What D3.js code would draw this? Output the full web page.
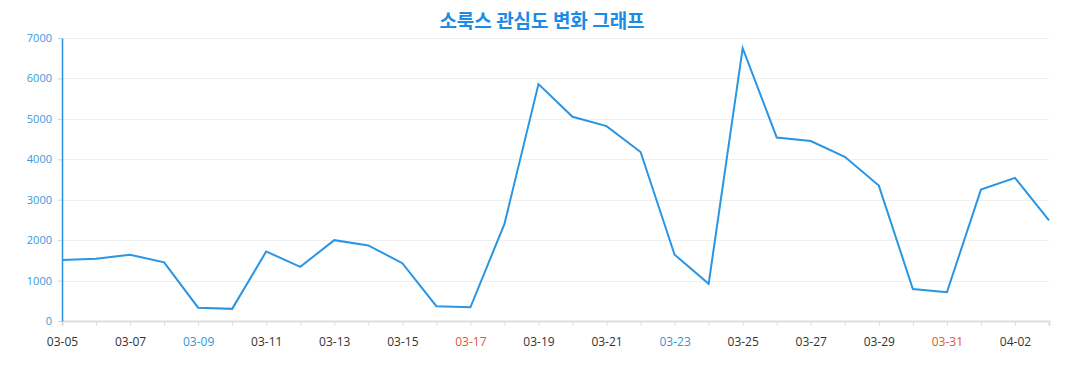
<!DOCTYPE html>
<html>
<head>
<meta charset="utf-8">
<script src="https://cdn.jsdelivr.net/npm/d3@7"></script>
<style>
 body { margin: 0; background: #fff; }
 svg { display: block; }
</style>
</head>
<body>
<div id="chart"></div>
<script type="text/javascript">
 var dates = ["03-05","03-06","03-07","03-08","03-09","03-10","03-11","03-12","03-13","03-14",
              "03-15","03-16","03-17","03-18","03-19","03-20","03-21","03-22","03-23","03-24",
              "03-25","03-26","03-27","03-28","03-29","03-30","03-31","04-01","04-02","04-03"];
 var values = [1510,1540,1640,1450,330,300,1720,1340,2000,1870,
               1430,365,340,2400,5860,5050,4820,4180,1640,920,
               6750,4540,4450,4060,3350,790,710,3250,3540,2490];
 var yTicks = [0,1000,2000,3000,4000,5000,6000,7000];
 var saturdays = ["03-09","03-16","03-23","03-30"];
 var sundays = ["03-10","03-17","03-24","03-31"];

 var props = {
   width: 1077,
   height: 390,
   marginTop: 38,
   marginLeft: 62,
   marginRight: 28,
   marginBottom: 69
 }
 var axisFont = "'Open Sans', 'Noto Sans', sans-serif";

 var svg = d3.select("#chart").append("svg").attr("width", props.width).attr("height", props.height);

 var x = d3.scalePoint().domain(dates).range([props.marginLeft, props.width - props.marginRight]);
 var y = d3.scaleLinear().domain([0, 7000]).range([props.height - props.marginBottom, props.marginTop]);

 // title
 svg.append("text")
   .attr("x", 542)
   .attr("y", 28)
   .attr("text-anchor", "middle")
   .style("font-family", "'Noto Sans CJK KR', sans-serif")
   .style("font-size", "19px")
   .style("font-weight", "bold")
   .style("fill", "#1b8be6")
   .text("소룩스 관심도 변화 그래프");

 // grid
 svg.append("g").selectAll("line")
   .data(yTicks.filter(function(d){ return d > 0; }))
   .enter()
   .append("line")
   .attr("x1", props.marginLeft)
   .attr("x2", props.width - props.marginRight)
   .attr("y1", function(d){ return Math.round(y(d)) + 0.5; })
   .attr("y2", function(d){ return Math.round(y(d)) + 0.5; })
   .style("stroke", "#efefef");

 // x axis
 var xAxis = svg.append("g")
   .attr("transform", "translate(0," + (props.height - props.marginBottom) + ")")
   .style("font-family", axisFont)
   .call(d3.axisBottom(x).tickSizeOuter(0).tickSize(5).tickPadding(11)
     .tickFormat(function(d, i){ return i % 2 == 0 ? d : ""; }));
 xAxis.select(".domain").style("stroke", "#dddddd").style("stroke-width", 2);
 xAxis.selectAll(".tick line").style("stroke", "#dddddd");
 xAxis.selectAll(".tick text")
   .style("font-size", "12px")
   .style("fill", function(d){
     if(saturdays.indexOf(d) >= 0) return "#2e98d3";
     if(sundays.indexOf(d) >= 0) return "#e0553a";
     return "#333333";
   });

 // y axis
 var yAxis = svg.append("g")
   .attr("transform", "translate(" + props.marginLeft + ",0)")
   .style("font-family", axisFont)
   .call(d3.axisLeft(y).tickValues(yTicks).tickFormat(d3.format("d")).tickSize(4).tickSizeOuter(0).tickPadding(6));
 yAxis.select(".domain").style("stroke", "#2a8fdc").style("stroke-width", 1.5);
 yAxis.selectAll(".tick line").style("stroke", "#bcd8ee");
 yAxis.selectAll(".tick text").style("font-size", "11px").style("fill", "#3a9ad9");

 // series line
 var line = d3.line()
   .x(function(d, i){ return x(dates[i]); })
   .y(function(d){ return y(d); });

 svg.append("path")
   .datum(values)
   .attr("d", line)
   .style("fill", "none")
   .style("stroke", "#2a95e3")
   .style("stroke-width", 2)
   .style("stroke-linejoin", "miter");
</script>
</body>
</html>
